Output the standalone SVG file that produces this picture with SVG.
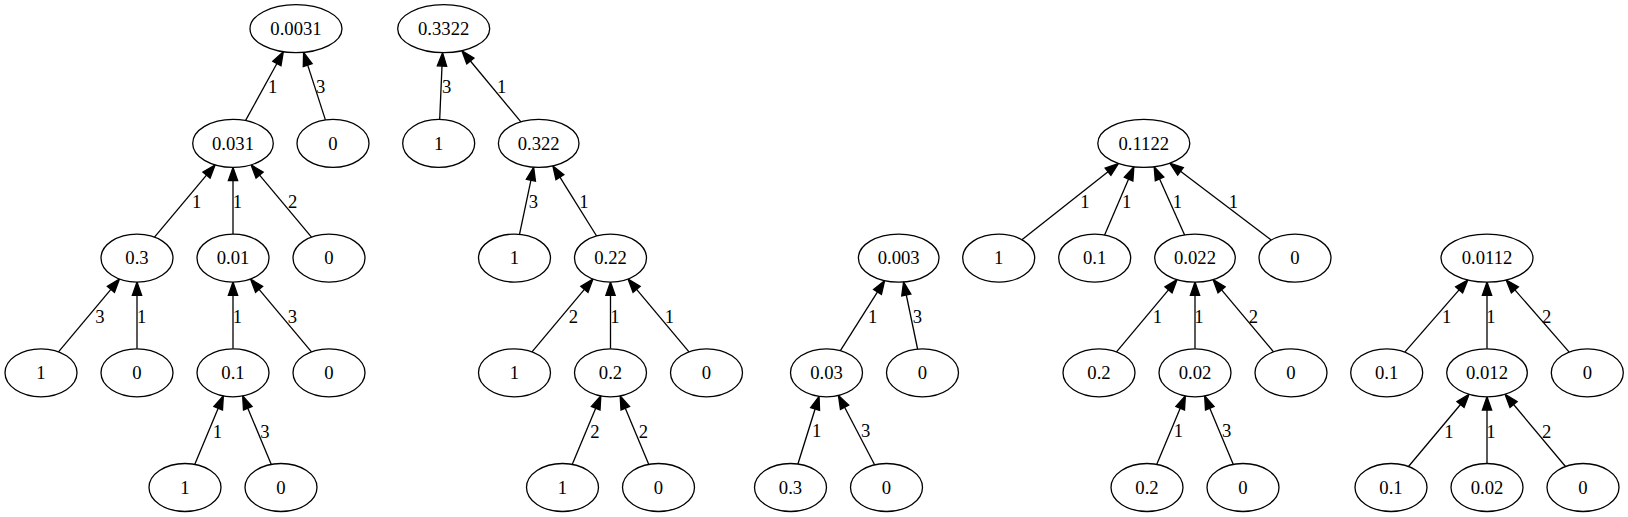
<svg xmlns="http://www.w3.org/2000/svg" width="1628" height="517" viewBox="0 0 1628 517">
<style>
.n ellipse{fill:#fff;stroke:#000;stroke-width:1.3}
text{font-family:"Liberation Serif","Times New Roman",serif;font-size:18.67px;fill:#000;text-anchor:middle}
.e line{stroke:#000;stroke-width:1.3;marker-end:url(#ah)}
</style>
<defs>
<marker id="ah" markerUnits="userSpaceOnUse" markerWidth="18" markerHeight="14" refX="1" refY="7" orient="auto" overflow="visible">
<path d="M1,2.33 L14.33,7 L1,11.67 z" fill="#000" stroke="#000" stroke-width="1.3"/>
</marker>
</defs>
<rect width="1628" height="517" fill="#fff"/>
<g id="edges" class="e">
<line x1="245.5" y1="120.6" x2="276.9" y2="63.5"/>
<line x1="325.4" y1="119.9" x2="307.7" y2="65.1"/>
<line x1="154.5" y1="237.1" x2="206.5" y2="175.1"/>
<line x1="233" y1="234.1" x2="233" y2="180.7"/>
<line x1="311.5" y1="237.1" x2="259.6" y2="175.1"/>
<line x1="58.5" y1="351.8" x2="110.9" y2="289.3"/>
<line x1="137" y1="348.8" x2="137" y2="295.4"/>
<line x1="233" y1="348.8" x2="233" y2="295.4"/>
<line x1="311.5" y1="351.8" x2="259.1" y2="289.3"/>
<line x1="194.7" y1="464.4" x2="218.2" y2="408.2"/>
<line x1="271.3" y1="464.4" x2="247.8" y2="408.2"/>
<line x1="439.7" y1="119.4" x2="442.0" y2="66.0"/>
<line x1="520.9" y1="121.9" x2="470.4" y2="61.0"/>
<line x1="519.5" y1="234.3" x2="530.9" y2="180.3"/>
<line x1="596.6" y1="236.0" x2="559.9" y2="177.2"/>
<line x1="532.0" y1="351.8" x2="584.4" y2="289.3"/>
<line x1="610.5" y1="348.8" x2="610.5" y2="295.4"/>
<line x1="689.0" y1="351.8" x2="636.6" y2="289.3"/>
<line x1="572.2" y1="464.4" x2="595.7" y2="408.2"/>
<line x1="648.8" y1="464.4" x2="625.3" y2="408.2"/>
<line x1="840.4" y1="350.7" x2="877.5" y2="291.9"/>
<line x1="917.6" y1="349.0" x2="906.3" y2="295.0"/>
<line x1="797.9" y1="464.0" x2="815.1" y2="409.0"/>
<line x1="874.6" y1="464.8" x2="844.6" y2="407.3"/>
<line x1="1021.9" y1="239.8" x2="1108.0" y2="171.7"/>
<line x1="1104.6" y1="235.0" x2="1128.6" y2="179.1"/>
<line x1="1184.6" y1="234.9" x2="1159.6" y2="179.0"/>
<line x1="1271.2" y1="240.1" x2="1180.5" y2="171.3"/>
<line x1="1116.5" y1="351.8" x2="1168.5" y2="289.8"/>
<line x1="1195" y1="348.8" x2="1195" y2="295.4"/>
<line x1="1273.5" y1="351.8" x2="1221.6" y2="289.8"/>
<line x1="1156.7" y1="464.4" x2="1180.2" y2="408.2"/>
<line x1="1233.3" y1="464.4" x2="1209.8" y2="408.2"/>
<line x1="1404.8" y1="352.1" x2="1459.1" y2="289.9"/>
<line x1="1487" y1="348.8" x2="1487" y2="295.4"/>
<line x1="1569.2" y1="352.1" x2="1514.9" y2="289.9"/>
<line x1="1408.5" y1="466.5" x2="1460.5" y2="404.5"/>
<line x1="1487" y1="463.5" x2="1487" y2="410.1"/>
<line x1="1565.5" y1="466.5" x2="1513.6" y2="404.5"/>
<text x="272.7" y="93">1</text>
<text x="320.7" y="93">3</text>
<text x="196.7" y="208">1</text>
<text x="237.3" y="208">1</text>
<text x="292.7" y="208">2</text>
<text x="100" y="323">3</text>
<text x="141.7" y="323">1</text>
<text x="237.3" y="323">1</text>
<text x="292.3" y="323">3</text>
<text x="217.3" y="438">1</text>
<text x="265" y="438">3</text>
<text x="446.7" y="93">3</text>
<text x="501.7" y="93">1</text>
<text x="533.3" y="208">3</text>
<text x="584" y="208">1</text>
<text x="573.3" y="323">2</text>
<text x="615" y="323">1</text>
<text x="669.3" y="323">1</text>
<text x="595" y="438">2</text>
<text x="643.3" y="438">2</text>
<text x="872.7" y="323">1</text>
<text x="917.3" y="323">3</text>
<text x="816.7" y="437">1</text>
<text x="865.7" y="437">3</text>
<text x="1085" y="208">1</text>
<text x="1126.7" y="208">1</text>
<text x="1177.3" y="208">1</text>
<text x="1233.3" y="208">1</text>
<text x="1157.3" y="323">1</text>
<text x="1199" y="323">1</text>
<text x="1253.3" y="323">2</text>
<text x="1178.3" y="437">1</text>
<text x="1226.7" y="437">3</text>
<text x="1446.7" y="323">1</text>
<text x="1491" y="323">1</text>
<text x="1546.7" y="323">2</text>
<text x="1449" y="438">1</text>
<text x="1491" y="438">1</text>
<text x="1546.7" y="438">2</text>
</g>
<g id="A0" class="n"><ellipse cx="296" cy="28.7" rx="46" ry="24"/><text x="296" y="35">0.0031</text></g>
<g id="A1" class="n"><ellipse cx="233" cy="143.4" rx="40.3" ry="24"/><text x="233" y="149.7">0.031</text></g>
<g id="A2" class="n"><ellipse cx="333" cy="143.4" rx="36" ry="24"/><text x="333" y="149.7">0</text></g>
<g id="A3" class="n"><ellipse cx="137" cy="258.1" rx="36" ry="24"/><text x="137" y="264.4">0.3</text></g>
<g id="A4" class="n"><ellipse cx="233" cy="258.1" rx="36" ry="24"/><text x="233" y="264.4">0.01</text></g>
<g id="A5" class="n"><ellipse cx="329" cy="258.1" rx="36" ry="24"/><text x="329" y="264.4">0</text></g>
<g id="A6" class="n"><ellipse cx="41" cy="372.8" rx="36" ry="24"/><text x="41" y="379.1">1</text></g>
<g id="A7" class="n"><ellipse cx="137" cy="372.8" rx="36" ry="24"/><text x="137" y="379.1">0</text></g>
<g id="A8" class="n"><ellipse cx="233" cy="372.8" rx="36" ry="24"/><text x="233" y="379.1">0.1</text></g>
<g id="A9" class="n"><ellipse cx="329" cy="372.8" rx="36" ry="24"/><text x="329" y="379.1">0</text></g>
<g id="A10" class="n"><ellipse cx="185" cy="487.5" rx="36" ry="24"/><text x="185" y="493.8">1</text></g>
<g id="A11" class="n"><ellipse cx="281" cy="487.5" rx="36" ry="24"/><text x="281" y="493.8">0</text></g>
<g id="B0" class="n"><ellipse cx="443.7" cy="28.7" rx="46" ry="24"/><text x="443.7" y="35">0.3322</text></g>
<g id="B1" class="n"><ellipse cx="438.7" cy="143.4" rx="36" ry="24"/><text x="438.7" y="149.7">1</text></g>
<g id="B2" class="n"><ellipse cx="538.7" cy="143.4" rx="40.3" ry="24"/><text x="538.7" y="149.7">0.322</text></g>
<g id="B3" class="n"><ellipse cx="514.5" cy="258.1" rx="36" ry="24"/><text x="514.5" y="264.4">1</text></g>
<g id="B4" class="n"><ellipse cx="610.5" cy="258.1" rx="36" ry="24"/><text x="610.5" y="264.4">0.22</text></g>
<g id="B5" class="n"><ellipse cx="514.5" cy="372.8" rx="36" ry="24"/><text x="514.5" y="379.1">1</text></g>
<g id="B6" class="n"><ellipse cx="610.5" cy="372.8" rx="36" ry="24"/><text x="610.5" y="379.1">0.2</text></g>
<g id="B7" class="n"><ellipse cx="706.5" cy="372.8" rx="36" ry="24"/><text x="706.5" y="379.1">0</text></g>
<g id="B8" class="n"><ellipse cx="562.5" cy="487.5" rx="36" ry="24"/><text x="562.5" y="493.8">1</text></g>
<g id="B9" class="n"><ellipse cx="658.5" cy="487.5" rx="36" ry="24"/><text x="658.5" y="493.8">0</text></g>
<g id="C0" class="n"><ellipse cx="898.7" cy="258.1" rx="40.3" ry="24"/><text x="898.7" y="264.4">0.003</text></g>
<g id="C1" class="n"><ellipse cx="826.5" cy="372.8" rx="36" ry="24"/><text x="826.5" y="379.1">0.03</text></g>
<g id="C2" class="n"><ellipse cx="922.5" cy="372.8" rx="36" ry="24"/><text x="922.5" y="379.1">0</text></g>
<g id="C3" class="n"><ellipse cx="790.5" cy="487.5" rx="36" ry="24"/><text x="790.5" y="493.8">0.3</text></g>
<g id="C4" class="n"><ellipse cx="886.5" cy="487.5" rx="36" ry="24"/><text x="886.5" y="493.8">0</text></g>
<g id="D0" class="n"><ellipse cx="1143.8" cy="143.4" rx="46" ry="24"/><text x="1143.8" y="149.7">0.1122</text></g>
<g id="D1" class="n"><ellipse cx="998.7" cy="258.1" rx="36" ry="24"/><text x="998.7" y="264.4">1</text></g>
<g id="D2" class="n"><ellipse cx="1094.7" cy="258.1" rx="36" ry="24"/><text x="1094.7" y="264.4">0.1</text></g>
<g id="D3" class="n"><ellipse cx="1195" cy="258.1" rx="40.3" ry="24"/><text x="1195" y="264.4">0.022</text></g>
<g id="D4" class="n"><ellipse cx="1295" cy="258.1" rx="36" ry="24"/><text x="1295" y="264.4">0</text></g>
<g id="D5" class="n"><ellipse cx="1099" cy="372.8" rx="36" ry="24"/><text x="1099" y="379.1">0.2</text></g>
<g id="D6" class="n"><ellipse cx="1195" cy="372.8" rx="36" ry="24"/><text x="1195" y="379.1">0.02</text></g>
<g id="D7" class="n"><ellipse cx="1291" cy="372.8" rx="36" ry="24"/><text x="1291" y="379.1">0</text></g>
<g id="D8" class="n"><ellipse cx="1147" cy="487.5" rx="36" ry="24"/><text x="1147" y="493.8">0.2</text></g>
<g id="D9" class="n"><ellipse cx="1243" cy="487.5" rx="36" ry="24"/><text x="1243" y="493.8">0</text></g>
<g id="E0" class="n"><ellipse cx="1487" cy="258.1" rx="46" ry="24"/><text x="1487" y="264.4">0.0112</text></g>
<g id="E1" class="n"><ellipse cx="1386.7" cy="372.8" rx="36" ry="24"/><text x="1386.7" y="379.1">0.1</text></g>
<g id="E2" class="n"><ellipse cx="1487" cy="372.8" rx="40.3" ry="24"/><text x="1487" y="379.1">0.012</text></g>
<g id="E3" class="n"><ellipse cx="1587.3" cy="372.8" rx="36" ry="24"/><text x="1587.3" y="379.1">0</text></g>
<g id="E4" class="n"><ellipse cx="1391" cy="487.5" rx="36" ry="24"/><text x="1391" y="493.8">0.1</text></g>
<g id="E5" class="n"><ellipse cx="1487" cy="487.5" rx="36" ry="24"/><text x="1487" y="493.8">0.02</text></g>
<g id="E6" class="n"><ellipse cx="1583" cy="487.5" rx="36" ry="24"/><text x="1583" y="493.8">0</text></g>
</svg>
